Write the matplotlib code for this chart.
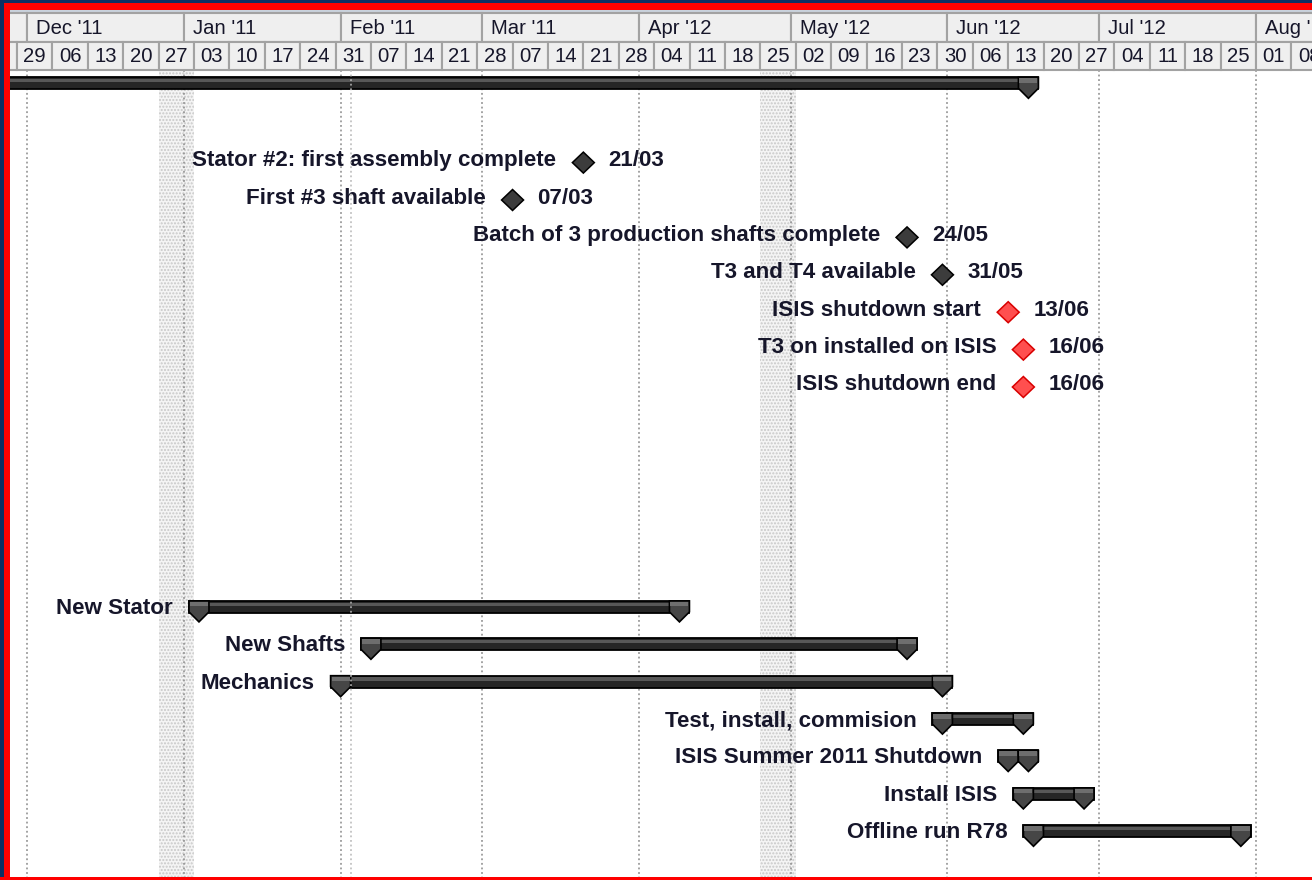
import matplotlib
matplotlib.use('Agg')
import matplotlib.pyplot as plt
import matplotlib.dates as mdates
from matplotlib.patches import Rectangle, Polygon
import datetime as dt

# ---------------- data ----------------
summary_start = '2010-11-01'
summary_end = '2011-06-17'

task_names = ['New Stator', 'New Shafts', 'Mechanics', 'Test, install, commision',
              'ISIS Summer 2011 Shutdown', 'Install ISIS', 'Offline run R78']
task_starts = ['2011-01-04', '2011-02-07', '2011-02-01', '2011-05-31',
               '2011-06-13', '2011-06-16', '2011-06-18']
task_ends = ['2011-04-09', '2011-05-24', '2011-05-31', '2011-06-16',
             '2011-06-17', '2011-06-28', '2011-07-29']

milestone_names = ['Stator #2: first assembly complete', 'First #3 shaft available',
                   'Batch of 3 production shafts complete', 'T3 and T4 available',
                   'ISIS shutdown start', 'T3 on installed on ISIS', 'ISIS shutdown end']
milestone_dates = ['2011-03-21', '2011-03-07', '2011-05-24', '2011-05-31',
                   '2011-06-13', '2011-06-16', '2011-06-16']
milestone_red = [False, False, False, False, True, True, True]

month_labels = ["Dec '11", "Jan '11", "Feb '11", "Mar '11", "Apr '12",
                "May '12", "Jun '12", "Jul '12", "Aug '12"]
month_starts = ['2010-12-01', '2011-01-01', '2011-02-01', '2011-03-01', '2011-04-01',
                '2011-05-01', '2011-06-01', '2011-07-01', '2011-08-01']
week_labels = ['29', '06', '13', '20', '27', '03', '10', '17', '24', '31', '07', '14',
               '21', '28', '07', '14', '21', '28', '04', '11', '18', '25', '02', '09',
               '16', '23', '30', '06', '13', '20', '27', '04', '11', '18', '25', '01', '08']
first_week = '2010-11-29'
holiday_starts = ['2010-12-27', '2011-04-25']
status_date = '2011-02-03'

# ---------------- layout ----------------
W, H = 1312, 880
PXD = 5.0576            # pixels per day
X0 = 16.9               # pixel of first_week
ROW0, PITCH = 83.3, 37.4
milestone_rows = list(range(2, 9))
task_rows = list(range(14, 21))

fig = plt.figure(figsize=(W / 100, H / 100), dpi=100)
fig.patch.set_facecolor('white')
ax = fig.add_axes([0, 0, 1, 1])
d0 = mdates.datestr2num(first_week)
ax.set_xlim(d0 - X0 / PXD, d0 + (W - X0) / PXD)
ax.set_ylim(H, 0)
ax.axis('off')


def px(n):
    return n / PXD


def num(s):
    return mdates.datestr2num(s)


FONT = 'Liberation Sans'
TXT = '#16162a'
LBL = 16.1
HDR_TOP, HDR_MID, HDR_BOT = 13, 42, 70
xmin, xmax = ax.get_xlim()

# ---- body background elements ----
for hs in holiday_starts:
    s = num(hs)
    ax.add_patch(Rectangle((s, HDR_BOT), 7, H - HDR_BOT, facecolor='#f4f4f4',
                           edgecolor='#c8c8c8', hatch='.....', linewidth=0, zorder=1))
for ms in month_starts:
    ax.plot([num(ms), num(ms)], [HDR_BOT, H], color='#8a8a8a', lw=1.1,
            linestyle=(0, (1.2, 1.8)), zorder=2)

# ---- header ----
ax.add_patch(Rectangle((xmin, 10), xmax - xmin, HDR_TOP - 10, facecolor='#c9d2dc',
                       edgecolor='none', zorder=5))
edges = [xmin] + [num(m) for m in month_starts] + [xmax + 40]
for i in range(len(edges) - 1):
    ax.add_patch(Rectangle((edges[i], HDR_TOP), edges[i + 1] - edges[i], HDR_MID - HDR_TOP,
                           facecolor='#efefef', edgecolor='#a2a2a2', lw=1.5, zorder=5))
for lab, ms in zip(month_labels, month_starts):
    ax.text(num(ms) + px(9), (HDR_TOP + HDR_MID) / 2 + 1, lab, fontsize=14.6,
            family=FONT, color=TXT, ha='left', va='center', zorder=6)
ax.add_patch(Rectangle((xmin, HDR_MID), num(first_week) - xmin, HDR_BOT - HDR_MID,
                       facecolor='#efefef', edgecolor='#a2a2a2', lw=1.5, zorder=5))
for i, lab in enumerate(week_labels):
    s = d0 + 7 * i
    ax.add_patch(Rectangle((s, HDR_MID), 7, HDR_BOT - HDR_MID, facecolor='#efefef',
                           edgecolor='#a2a2a2', lw=1.5, zorder=5))
    ax.text(s + 3.5, (HDR_MID + HDR_BOT) / 2 + 1, lab, fontsize=14.6, family=FONT,
            color=TXT, ha='center', va='center', zorder=6)


# ---- bars ----
def draw_bar(start, end, yc, clip_left=False):
    left = start - px(10)
    right = end + px(10)
    ax.add_patch(Rectangle((left, yc - 6), right - left, 12, facecolor='#262626',
                           edgecolor='#000000', lw=1.3, zorder=10))
    ax.add_patch(Rectangle((left, yc - 4.3), right - left, 3.2, facecolor='#585858',
                           edgecolor='none', zorder=11))
    markers = [end] if clip_left else [start, end]
    for m in markers:
        pts = [(m - px(10), yc - 6), (m + px(10), yc - 6), (m + px(10), yc + 5),
               (m, yc + 15), (m - px(10), yc + 5)]
        ax.add_patch(Polygon(pts, closed=True, facecolor='#464646', edgecolor='#000000',
                             lw=1.2, zorder=12))
        ax.add_patch(Polygon([(m - px(9), yc - 5), (m + px(9), yc - 5), (m + px(9), yc - 0.5),
                              (m - px(9), yc - 0.5)], closed=True, facecolor='#6e6e6e',
                             edgecolor='none', zorder=13))


draw_bar(num(summary_start), num(summary_end), ROW0, clip_left=True)

for name, s, e, r in zip(task_names, task_starts, task_ends, task_rows):
    yc = ROW0 + r * PITCH
    draw_bar(num(s), num(e), yc)
    ax.text(num(s) - px(26), yc + 1.5, name, fontsize=LBL, family=FONT, weight='bold',
            color=TXT, ha='right', va='center', zorder=14)

# ---- milestones ----
for name, d, red, r in zip(milestone_names, milestone_dates, milestone_red, milestone_rows):
    yc = ROW0 + r * PITCH
    x = num(d)
    yd = yc + 4.5
    face, edge = ('#ff4f4f', '#d80000') if red else ('#3c3c3c', '#000000')
    ax.add_patch(Polygon([(x - px(11), yd), (x, yd - 10.5), (x + px(11), yd), (x, yd + 10.5)],
                         closed=True, facecolor=face, edgecolor=edge, lw=1.1, zorder=12))
    ax.text(x - px(27), yc + 2.5, name, fontsize=LBL, family=FONT, weight='bold',
            color=TXT, ha='right', va='center', zorder=14)
    ddate = dt.datetime.strptime(d, '%Y-%m-%d').strftime('%d/%m')
    ax.text(x + px(25), yc + 2.5, ddate, fontsize=LBL, family=FONT, weight='bold',
            color=TXT, ha='left', va='center', zorder=14)

# ---- status line drawn over bars ----
ax.plot([num(status_date)] * 2, [HDR_BOT, H], color='#b8b8b8', lw=1.1,
        linestyle=(0, (1.2, 1.8)), zorder=15)

# ---- window frame ----
fig.patches.extend([
    Rectangle((0, 0), 4 / W, 1, transform=fig.transFigure, facecolor='#0d2f63',
              edgecolor='none', zorder=20),
    Rectangle((0, 1 - 3 / H), 1, 3 / H, transform=fig.transFigure, facecolor='#0d2f63',
              edgecolor='none', zorder=20),
    Rectangle((4 / W, 0), 6 / W, 1 - 3 / H, transform=fig.transFigure, facecolor='#ff0000',
              edgecolor='none', zorder=21),
    Rectangle((4 / W, 1 - 10 / H), 1, 7 / H, transform=fig.transFigure, facecolor='#ff0000',
              edgecolor='none', zorder=21),
    Rectangle((0, 0), 1, 3 / H, transform=fig.transFigure, facecolor='#ff0000',
              edgecolor='none', zorder=21),
])

fig.savefig('out.png', dpi=100, facecolor='white')
